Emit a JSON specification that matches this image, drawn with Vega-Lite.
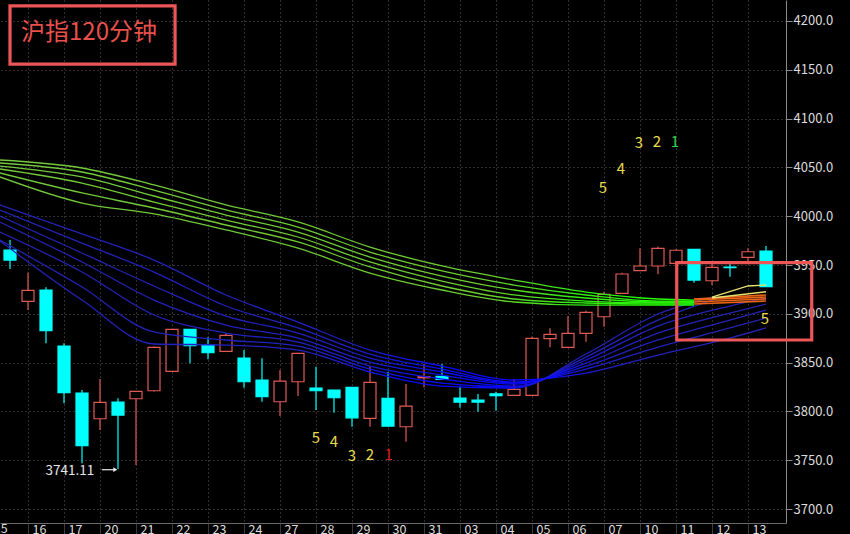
{
  "$schema": "https://vega.github.io/schema/vega-lite/v6.json",
  "width": 786,
  "height": 523,
  "autosize": {"type": "none"},
  "padding": {"left": 0, "top": 0, "right": 64, "bottom": 11},
  "background": "#000000",
  "config": {
    "view": {"stroke": null},
    "scale": {"continuousPadding": 0},
    "axis": {"title": null, "labelFont": "Noto Sans CJK SC", "labelColor": "#dcdcdc", "labelFontSize": 13, "gridColor": "#5c5c5c", "gridDash": [1, 3], "gridWidth": 1, "labelOverlap": false, "labelFlush": false, "labelBound": false}
  },
  "datasets": {
    "candles": [
      {"i": 0, "o": 3965.4, "h": 3975.6, "l": 3945.9, "c": 3955.1, "d": "d"},
      {"i": 1, "o": 3912.8, "h": 3942.1, "l": 3903.9, "c": 3924.1, "d": "u"},
      {"i": 2, "o": 3924.4, "h": 3927.2, "l": 3869.8, "c": 3882.7, "d": "d"},
      {"i": 3, "o": 3867.0, "h": 3869.8, "l": 3808.3, "c": 3819.2, "d": "d"},
      {"i": 4, "o": 3818.9, "h": 3821.9, "l": 3746.8, "c": 3764.9, "d": "d"},
      {"i": 5, "o": 3792.5, "h": 3833.2, "l": 3780.9, "c": 3809.3, "d": "u"},
      {"i": 6, "o": 3809.6, "h": 3813.4, "l": 3741.11, "c": 3796.3, "d": "d"},
      {"i": 7, "o": 3813.0, "h": 3821.0, "l": 3745.1, "c": 3820.6, "d": "u"},
      {"i": 8, "o": 3821.2, "h": 3866.5, "l": 3820.5, "c": 3865.7, "d": "u"},
      {"i": 9, "o": 3841.1, "h": 3884.5, "l": 3840.5, "c": 3884.1, "d": "u"},
      {"i": 10, "o": 3884.1, "h": 3884.5, "l": 3849.3, "c": 3867.3, "d": "d"},
      {"i": 11, "o": 3868.0, "h": 3875.9, "l": 3853.4, "c": 3860.1, "d": "d"},
      {"i": 12, "o": 3861.6, "h": 3880.0, "l": 3861.0, "c": 3878.0, "d": "u"},
      {"i": 13, "o": 3854.7, "h": 3862.9, "l": 3824.3, "c": 3830.4, "d": "d"},
      {"i": 14, "o": 3832.2, "h": 3854.4, "l": 3809.9, "c": 3815.1, "d": "d"},
      {"i": 15, "o": 3809.9, "h": 3842.4, "l": 3795.3, "c": 3831.1, "d": "u"},
      {"i": 16, "o": 3830.4, "h": 3860.1, "l": 3815.8, "c": 3859.5, "d": "u"},
      {"i": 17, "o": 3824.0, "h": 3845.8, "l": 3801.4, "c": 3821.2, "d": "d"},
      {"i": 18, "o": 3821.9, "h": 3822.0, "l": 3798.7, "c": 3814.0, "d": "d"},
      {"i": 19, "o": 3824.7, "h": 3825.0, "l": 3784.3, "c": 3793.5, "d": "d"},
      {"i": 20, "o": 3792.9, "h": 3845.8, "l": 3784.3, "c": 3829.8, "d": "u"},
      {"i": 21, "o": 3813.4, "h": 3840.7, "l": 3784.3, "c": 3785.0, "d": "d"},
      {"i": 22, "o": 3784.3, "h": 3828.1, "l": 3769.0, "c": 3805.5, "d": "u"},
      {"i": 23, "o": 3834.5, "h": 3848.6, "l": 3824.7, "c": 3835.6, "d": "u"},
      {"i": 24, "o": 3836.0, "h": 3848.6, "l": 3832.5, "c": 3832.9, "d": "d"},
      {"i": 25, "o": 3813.7, "h": 3825.3, "l": 3803.8, "c": 3809.6, "d": "d"},
      {"i": 26, "o": 3811.7, "h": 3817.8, "l": 3799.7, "c": 3809.6, "d": "d"},
      {"i": 27, "o": 3818.1, "h": 3820.2, "l": 3800.7, "c": 3816.1, "d": "d"},
      {"i": 28, "o": 3816.5, "h": 3832.9, "l": 3816.0, "c": 3822.6, "d": "u"},
      {"i": 29, "o": 3816.5, "h": 3876.5, "l": 3816.0, "c": 3874.9, "d": "u"},
      {"i": 30, "o": 3874.5, "h": 3885.1, "l": 3865.7, "c": 3879.0, "d": "u"},
      {"i": 31, "o": 3865.7, "h": 3897.7, "l": 3865.5, "c": 3880.0, "d": "u"},
      {"i": 32, "o": 3880.0, "h": 3903.2, "l": 3871.4, "c": 3901.5, "d": "u"},
      {"i": 33, "o": 3897.0, "h": 3922.6, "l": 3886.8, "c": 3920.0, "d": "u"},
      {"i": 34, "o": 3921.0, "h": 3942.1, "l": 3920.5, "c": 3940.8, "d": "u"},
      {"i": 35, "o": 3944.2, "h": 3967.1, "l": 3944.0, "c": 3949.0, "d": "u"},
      {"i": 36, "o": 3949.0, "h": 3968.8, "l": 3940.5, "c": 3967.1, "d": "u"},
      {"i": 37, "o": 3951.7, "h": 3966.1, "l": 3951.5, "c": 3965.1, "d": "u"},
      {"i": 38, "o": 3966.1, "h": 3966.3, "l": 3931.9, "c": 3934.6, "d": "d"},
      {"i": 39, "o": 3933.9, "h": 3951.7, "l": 3929.5, "c": 3947.6, "d": "u"},
      {"i": 40, "o": 3947.9, "h": 3951.7, "l": 3938.0, "c": 3947.3, "d": "d"},
      {"i": 41, "o": 3957.9, "h": 3967.1, "l": 3954.4, "c": 3963.6, "d": "u"},
      {"i": 42, "o": 3964.3, "h": 3969.5, "l": 3927.5, "c": 3927.8, "d": "d"}
    ],
    "lines": [
      {"s": "G1", "g": "green", "i": -0.56, "v": 4057.6}, {"s": "G1", "g": "green", "i": 4, "v": 4049.4}, {"s": "G1", "g": "green", "i": 8, "v": 4032.0}, {"s": "G1", "g": "green", "i": 12, "v": 4011.5}, {"s": "G1", "g": "green", "i": 16, "v": 3994.1}, {"s": "G1", "g": "green", "i": 20, "v": 3968.4}, {"s": "G1", "g": "green", "i": 24, "v": 3949.0}, {"s": "G1", "g": "green", "i": 28, "v": 3934.6}, {"s": "G1", "g": "green", "i": 32, "v": 3922.3}, {"s": "G1", "g": "green", "i": 36, "v": 3915.2}, {"s": "G1", "g": "green", "i": 38, "v": 3914.1},
      {"s": "G2", "g": "green", "i": -0.56, "v": 4054.5}, {"s": "G2", "g": "green", "i": 4, "v": 4045.3}, {"s": "G2", "g": "green", "i": 8, "v": 4026.8}, {"s": "G2", "g": "green", "i": 12, "v": 4006.4}, {"s": "G2", "g": "green", "i": 16, "v": 3988.9}, {"s": "G2", "g": "green", "i": 20, "v": 3963.3}, {"s": "G2", "g": "green", "i": 24, "v": 3943.9}, {"s": "G2", "g": "green", "i": 28, "v": 3929.5}, {"s": "G2", "g": "green", "i": 32, "v": 3919.3}, {"s": "G2", "g": "green", "i": 36, "v": 3913.1}, {"s": "G2", "g": "green", "i": 38, "v": 3913.1},
      {"s": "G3", "g": "green", "i": -0.56, "v": 4051.4}, {"s": "G3", "g": "green", "i": 4, "v": 4040.2}, {"s": "G3", "g": "green", "i": 8, "v": 4020.7}, {"s": "G3", "g": "green", "i": 12, "v": 4001.2}, {"s": "G3", "g": "green", "i": 16, "v": 3983.8}, {"s": "G3", "g": "green", "i": 20, "v": 3958.2}, {"s": "G3", "g": "green", "i": 24, "v": 3938.7}, {"s": "G3", "g": "green", "i": 28, "v": 3924.4}, {"s": "G3", "g": "green", "i": 32, "v": 3916.2}, {"s": "G3", "g": "green", "i": 36, "v": 3912.1}, {"s": "G3", "g": "green", "i": 38, "v": 3912.1},
      {"s": "G4", "g": "green", "i": -0.56, "v": 4048.4}, {"s": "G4", "g": "green", "i": 4, "v": 4034.0}, {"s": "G4", "g": "green", "i": 8, "v": 4014.5}, {"s": "G4", "g": "green", "i": 12, "v": 3996.1}, {"s": "G4", "g": "green", "i": 16, "v": 3978.7}, {"s": "G4", "g": "green", "i": 20, "v": 3953.1}, {"s": "G4", "g": "green", "i": 24, "v": 3933.6}, {"s": "G4", "g": "green", "i": 28, "v": 3919.3}, {"s": "G4", "g": "green", "i": 32, "v": 3913.1}, {"s": "G4", "g": "green", "i": 36, "v": 3911.1}, {"s": "G4", "g": "green", "i": 38, "v": 3911.1},
      {"s": "G5", "g": "green", "i": -0.56, "v": 4044.3}, {"s": "G5", "g": "green", "i": 4, "v": 4023.8}, {"s": "G5", "g": "green", "i": 8, "v": 4008.4}, {"s": "G5", "g": "green", "i": 12, "v": 3991.0}, {"s": "G5", "g": "green", "i": 16, "v": 3973.6}, {"s": "G5", "g": "green", "i": 20, "v": 3948.0}, {"s": "G5", "g": "green", "i": 24, "v": 3928.5}, {"s": "G5", "g": "green", "i": 28, "v": 3915.2}, {"s": "G5", "g": "green", "i": 32, "v": 3911.1}, {"s": "G5", "g": "green", "i": 36, "v": 3910.0}, {"s": "G5", "g": "green", "i": 38, "v": 3910.0},
      {"s": "G6", "g": "green", "i": -0.56, "v": 4040.2}, {"s": "G6", "g": "green", "i": 4, "v": 4013.5}, {"s": "G6", "g": "green", "i": 8, "v": 4002.3}, {"s": "G6", "g": "green", "i": 12, "v": 3985.9}, {"s": "G6", "g": "green", "i": 16, "v": 3967.4}, {"s": "G6", "g": "green", "i": 20, "v": 3941.8}, {"s": "G6", "g": "green", "i": 24, "v": 3924.4}, {"s": "G6", "g": "green", "i": 28, "v": 3912.1}, {"s": "G6", "g": "green", "i": 32, "v": 3909.0}, {"s": "G6", "g": "green", "i": 36, "v": 3909.0}, {"s": "G6", "g": "green", "i": 38, "v": 3909.0},
      {"s": "B1", "g": "blue", "i": -0.56, "v": 4011.5}, {"s": "B1", "g": "blue", "i": 4, "v": 3981.8}, {"s": "B1", "g": "blue", "i": 8, "v": 3955.1}, {"s": "B1", "g": "blue", "i": 12, "v": 3919.3}, {"s": "B1", "g": "blue", "i": 16, "v": 3891.6}, {"s": "B1", "g": "blue", "i": 20, "v": 3862.9}, {"s": "B1", "g": "blue", "i": 24, "v": 3846.5}, {"s": "B1", "g": "blue", "i": 28, "v": 3832.2}, {"s": "B1", "g": "blue", "i": 32, "v": 3839.3}, {"s": "B1", "g": "blue", "i": 36, "v": 3857.8}, {"s": "B1", "g": "blue", "i": 40, "v": 3875.2}, {"s": "B1", "g": "blue", "i": 42, "v": 3885.5},
      {"s": "B2", "g": "blue", "i": -0.56, "v": 4006.4}, {"s": "B2", "g": "blue", "i": 4, "v": 3972.5}, {"s": "B2", "g": "blue", "i": 8, "v": 3942.8}, {"s": "B2", "g": "blue", "i": 12, "v": 3908.0}, {"s": "B2", "g": "blue", "i": 16, "v": 3885.5}, {"s": "B2", "g": "blue", "i": 20, "v": 3858.8}, {"s": "B2", "g": "blue", "i": 24, "v": 3843.4}, {"s": "B2", "g": "blue", "i": 28, "v": 3830.1}, {"s": "B2", "g": "blue", "i": 32, "v": 3843.4}, {"s": "B2", "g": "blue", "i": 36, "v": 3866.0}, {"s": "B2", "g": "blue", "i": 40, "v": 3885.5}, {"s": "B2", "g": "blue", "i": 42, "v": 3895.7},
      {"s": "B3", "g": "blue", "i": -0.56, "v": 4000.2}, {"s": "B3", "g": "blue", "i": 4, "v": 3962.3}, {"s": "B3", "g": "blue", "i": 8, "v": 3928.5}, {"s": "B3", "g": "blue", "i": 12, "v": 3897.7}, {"s": "B3", "g": "blue", "i": 16, "v": 3880.3}, {"s": "B3", "g": "blue", "i": 20, "v": 3854.7}, {"s": "B3", "g": "blue", "i": 24, "v": 3840.4}, {"s": "B3", "g": "blue", "i": 28, "v": 3829.1}, {"s": "B3", "g": "blue", "i": 32, "v": 3846.5}, {"s": "B3", "g": "blue", "i": 36, "v": 3873.2}, {"s": "B3", "g": "blue", "i": 40, "v": 3893.6}, {"s": "B3", "g": "blue", "i": 42, "v": 3903.9},
      {"s": "B4", "g": "blue", "i": -0.56, "v": 3994.1}, {"s": "B4", "g": "blue", "i": 4, "v": 3953.1}, {"s": "B4", "g": "blue", "i": 8, "v": 3914.1}, {"s": "B4", "g": "blue", "i": 12, "v": 3888.5}, {"s": "B4", "g": "blue", "i": 16, "v": 3875.2}, {"s": "B4", "g": "blue", "i": 20, "v": 3850.6}, {"s": "B4", "g": "blue", "i": 24, "v": 3837.3}, {"s": "B4", "g": "blue", "i": 28, "v": 3828.1}, {"s": "B4", "g": "blue", "i": 32, "v": 3849.6}, {"s": "B4", "g": "blue", "i": 36, "v": 3880.3}, {"s": "B4", "g": "blue", "i": 40, "v": 3900.8}, {"s": "B4", "g": "blue", "i": 42, "v": 3910.0},
      {"s": "B5", "g": "blue", "i": -0.56, "v": 3983.8}, {"s": "B5", "g": "blue", "i": 4, "v": 3942.8}, {"s": "B5", "g": "blue", "i": 8, "v": 3898.8}, {"s": "B5", "g": "blue", "i": 12, "v": 3880.3}, {"s": "B5", "g": "blue", "i": 16, "v": 3871.1}, {"s": "B5", "g": "blue", "i": 20, "v": 3846.5}, {"s": "B5", "g": "blue", "i": 24, "v": 3833.2}, {"s": "B5", "g": "blue", "i": 28, "v": 3826.0}, {"s": "B5", "g": "blue", "i": 32, "v": 3852.7}, {"s": "B5", "g": "blue", "i": 36, "v": 3887.5}, {"s": "B5", "g": "blue", "i": 40, "v": 3908.0}, {"s": "B5", "g": "blue", "i": 42, "v": 3916.2},
      {"s": "B6", "g": "blue", "i": -0.56, "v": 3975.6}, {"s": "B6", "g": "blue", "i": 4, "v": 3927.5}, {"s": "B6", "g": "blue", "i": 8, "v": 3881.4}, {"s": "B6", "g": "blue", "i": 12, "v": 3873.2}, {"s": "B6", "g": "blue", "i": 16, "v": 3867.0}, {"s": "B6", "g": "blue", "i": 20, "v": 3843.4}, {"s": "B6", "g": "blue", "i": 24, "v": 3829.1}, {"s": "B6", "g": "blue", "i": 28, "v": 3825.0}, {"s": "B6", "g": "blue", "i": 32, "v": 3855.7}, {"s": "B6", "g": "blue", "i": 36, "v": 3893.6}, {"s": "B6", "g": "blue", "i": 39, "v": 3914.1},
      {"s": "B7", "g": "blue", "i": -0.56, "v": 3974.6}, {"s": "B7", "g": "blue", "i": 4, "v": 3914.1}, {"s": "B7", "g": "blue", "i": 8, "v": 3869.1}, {"s": "B7", "g": "blue", "i": 12, "v": 3868.0}, {"s": "B7", "g": "blue", "i": 16, "v": 3862.9}, {"s": "B7", "g": "blue", "i": 20, "v": 3840.4}, {"s": "B7", "g": "blue", "i": 24, "v": 3826.0}, {"s": "B7", "g": "blue", "i": 28, "v": 3824.0}, {"s": "B7", "g": "blue", "i": 32, "v": 3858.8}, {"s": "B7", "g": "blue", "i": 36, "v": 3899.8}, {"s": "B7", "g": "blue", "i": 39, "v": 3917.2},
      {"s": "O1", "g": "orange", "i": 38, "v": 3915.2}, {"s": "O1", "g": "orange", "i": 42, "v": 3919.3},
      {"s": "O2", "g": "orange", "i": 38, "v": 3914.1}, {"s": "O2", "g": "orange", "i": 42, "v": 3917.2},
      {"s": "O3", "g": "orange", "i": 38, "v": 3912.1}, {"s": "O3", "g": "orange", "i": 42, "v": 3915.2},
      {"s": "O4", "g": "orange", "i": 38, "v": 3910.0}, {"s": "O4", "g": "orange", "i": 42, "v": 3913.1},
      {"s": "Y1", "g": "yellow", "i": 39, "v": 3917.2}, {"s": "Y1", "g": "yellow", "i": 41, "v": 3928.5}, {"s": "Y1", "g": "yellow", "i": 42, "v": 3929.5},
      {"s": "Y2", "g": "yellow", "i": 39, "v": 3916.2}, {"s": "Y2", "g": "yellow", "i": 42, "v": 3922.6}
    ],
    "boxes": [
      {"x1": 0, "x2": 9.17, "y1": 4215.4, "y2": 4155.9},
      {"x1": 37.04, "x2": 44.54, "y1": 3952.4, "y2": 3873.2}
    ],
    "texts": [
      {"i": 4.39, "v": 4188.2, "t": "沪指120分钟", "g": "title"},
      {"i": 3.33, "v": 3738.9, "t": "3741.11", "g": "white"},
      {"i": 17, "v": 3772.7, "t": "5", "g": "yellow"},
      {"i": 18, "v": 3768.9, "t": "4", "g": "yellow"},
      {"i": 19, "v": 3754.3, "t": "3", "g": "yellow"},
      {"i": 20, "v": 3755.0, "t": "2", "g": "yellow"},
      {"i": 21.04, "v": 3755.0, "t": "1", "g": "red"},
      {"i": 32.94, "v": 4028.9, "t": "5", "g": "yellow"},
      {"i": 33.94, "v": 4048.4, "t": "4", "g": "yellow"},
      {"i": 34.94, "v": 4075.0, "t": "3", "g": "yellow"},
      {"i": 35.94, "v": 4076.0, "t": "2", "g": "yellow"},
      {"i": 36.94, "v": 4076.0, "t": "1", "g": "green"},
      {"i": 41.94, "v": 3894.7, "t": "5", "g": "yellow"}
    ],
    "edge": [
      {"i": -0.9, "v": 3685.7, "t": "15"}
    ],
    "arrow": [
      {"i": 5.1, "i2": 5.85, "v": 3740.3}
    ]
  },
  "layer": [
    {
      "data": {"name": "candles"},
      "mark": {"type": "rule", "strokeWidth": 1.2},
      "encoding": {
        "x": {"field": "i", "type": "quantitative", "scale": {"domain": [-0.556, 43.111], "nice": false, "zero": false, "padding": 0},
          "axis": {"orient": "bottom", "values": [1, 3, 5, 7, 9, 11, 13, 15, 17, 19, 21, 23, 25, 27, 29, 31, 33, 35, 37, 39, 41], "tickCount": 60,
            "labelExpr": "['15','16','17','20','21','22','23','24','27','28','29','30','31','03','04','05','06','07','10','11','12','13'][(datum.value+1)/2]",
            "labelAlign": "left", "labelOffset": 4, "labelBaseline": "top", "labelPadding": -11, "labelFontSize": 12.5, "labelFlush": false, "labelOverlap": false, "labelBound": false,
            "tickSize": 11, "tickColor": "#3a3a3a", "domainColor": "#6a6a6a", "grid": true}},
        "y": {"field": "l", "type": "quantitative", "scale": {"domain": [3685.7, 4221.5], "nice": false, "zero": false},
          "axis": {"orient": "right", "values": [3700, 3750, 3800, 3850, 3900, 3950, 4000, 4050, 4100, 4150, 4200], "tickCount": 30, "format": ".1f",
            "tickSize": 6, "tickColor": "#8a8a8a", "domainColor": "#8a8a8a", "labelPadding": 1, "labelBaseline": "middle", "grid": true}},
        "y2": {"field": "h"},
        "color": {"condition": {"test": "datum.d == 'u'", "value": "#e05a55"}, "value": "#00ffff"}
      }
    },
    {
      "data": {"name": "candles"},
      "mark": {"type": "bar", "size": 12, "strokeWidth": 1.2},
      "encoding": {
        "x": {"field": "i", "type": "quantitative", "scale": {"domain": [-0.556, 43.111], "nice": false, "zero": false, "padding": 0}},
        "y": {"field": "o", "type": "quantitative", "scale": {"domain": [3685.7, 4221.5], "nice": false, "zero": false}},
        "y2": {"field": "c"},
        "fill": {"condition": {"test": "datum.d == 'u'", "value": "#000000"}, "value": "#00ffff"},
        "stroke": {"condition": {"test": "datum.d == 'u'", "value": "#e05a55"}, "value": "#00ffff"}
      }
    },
    {
      "data": {"name": "lines"},
      "transform": [{"filter": "datum.g == 'blue'"}],
      "mark": {"type": "line", "interpolate": "monotone", "strokeWidth": 1.3, "clip": true,
        "stroke": {"gradient": "linear", "x1": 0, "y1": 0, "x2": 1, "y2": 0,
          "stops": [{"offset": 0, "color": "#2222b4"}, {"offset": 0.45, "color": "#2020c4"}, {"offset": 0.58, "color": "#0a0af4"}, {"offset": 0.7, "color": "#0808ff"}, {"offset": 0.8, "color": "#2020c0"}, {"offset": 1, "color": "#2424b0"}]}},
      "encoding": {
        "x": {"field": "i", "type": "quantitative", "scale": {"domain": [-0.556, 43.111], "nice": false, "zero": false, "padding": 0}},
        "y": {"field": "v", "type": "quantitative", "scale": {"domain": [3685.7, 4221.5], "nice": false, "zero": false}},
        "detail": {"field": "s"}
      }
    },
    {
      "data": {"name": "lines"},
      "transform": [{"filter": "datum.g == 'green'"}],
      "mark": {"type": "line", "interpolate": "monotone", "strokeWidth": 1.3, "clip": true,
        "stroke": {"gradient": "linear", "x1": 0, "y1": 0, "x2": 1, "y2": 0,
          "stops": [{"offset": 0, "color": "#74c83c"}, {"offset": 0.7, "color": "#6ccc30"}, {"offset": 0.82, "color": "#34ec14"}, {"offset": 1, "color": "#22ff00"}]}},
      "encoding": {
        "x": {"field": "i", "type": "quantitative", "scale": {"domain": [-0.556, 43.111], "nice": false, "zero": false, "padding": 0}},
        "y": {"field": "v", "type": "quantitative", "scale": {"domain": [3685.7, 4221.5], "nice": false, "zero": false}},
        "detail": {"field": "s"}
      }
    },
    {
      "data": {"name": "lines"},
      "transform": [{"filter": "datum.g == 'orange'"}],
      "mark": {"type": "line", "strokeWidth": 1.6, "clip": true, "stroke": "#ea6418"},
      "encoding": {
        "x": {"field": "i", "type": "quantitative", "scale": {"domain": [-0.556, 43.111], "nice": false, "zero": false, "padding": 0}},
        "y": {"field": "v", "type": "quantitative", "scale": {"domain": [3685.7, 4221.5], "nice": false, "zero": false}},
        "detail": {"field": "s"}
      }
    },
    {
      "data": {"name": "lines"},
      "transform": [{"filter": "datum.g == 'yellow'"}],
      "mark": {"type": "line", "strokeWidth": 1.3, "clip": true, "stroke": "#e8e070"},
      "encoding": {
        "x": {"field": "i", "type": "quantitative", "scale": {"domain": [-0.556, 43.111], "nice": false, "zero": false, "padding": 0}},
        "y": {"field": "v", "type": "quantitative", "scale": {"domain": [3685.7, 4221.5], "nice": false, "zero": false}},
        "detail": {"field": "s"}
      }
    },
    {
      "data": {"name": "boxes"},
      "mark": {"type": "rect", "filled": false, "stroke": "#ec5656", "strokeWidth": 3.2},
      "encoding": {
        "x": {"field": "x1", "type": "quantitative", "scale": {"domain": [-0.556, 43.111], "nice": false, "zero": false, "padding": 0}},
        "x2": {"field": "x2"},
        "y": {"field": "y1", "type": "quantitative", "scale": {"domain": [3685.7, 4221.5], "nice": false, "zero": false}},
        "y2": {"field": "y2"}
      }
    },
    {
      "data": {"name": "arrow"},
      "mark": {"type": "rule", "color": "#e8e8e8", "strokeWidth": 1.2},
      "encoding": {
        "x": {"field": "i", "type": "quantitative", "scale": {"domain": [-0.556, 43.111], "nice": false, "zero": false, "padding": 0}},
        "x2": {"field": "i2"},
        "y": {"field": "v", "type": "quantitative", "scale": {"domain": [3685.7, 4221.5], "nice": false, "zero": false}}
      }
    },
    {
      "data": {"name": "arrow"},
      "mark": {"type": "point", "shape": "triangle-right", "filled": true, "color": "#e8e8e8", "size": 22, "opacity": 1},
      "encoding": {
        "x": {"field": "i2", "type": "quantitative", "scale": {"domain": [-0.556, 43.111], "nice": false, "zero": false, "padding": 0}},
        "y": {"field": "v", "type": "quantitative", "scale": {"domain": [3685.7, 4221.5], "nice": false, "zero": false}}
      }
    },
    {
      "data": {"name": "edge"},
      "mark": {"type": "text", "font": "Noto Sans CJK SC", "fontSize": 12.5, "align": "left", "baseline": "top", "color": "#dcdcdc"},
      "encoding": {
        "x": {"field": "i", "type": "quantitative", "scale": {"domain": [-0.556, 43.111], "nice": false, "zero": false, "padding": 0}},
        "y": {"field": "v", "type": "quantitative", "scale": {"domain": [3685.7, 4221.5], "nice": false, "zero": false}},
        "text": {"field": "t"}
      }
    },
    {
      "data": {"name": "texts"},
      "mark": {"type": "text", "font": "Noto Sans CJK SC", "align": "center", "baseline": "middle"},
      "encoding": {
        "x": {"field": "i", "type": "quantitative", "scale": {"domain": [-0.556, 43.111], "nice": false, "zero": false, "padding": 0}},
        "y": {"field": "v", "type": "quantitative", "scale": {"domain": [3685.7, 4221.5], "nice": false, "zero": false}},
        "text": {"field": "t"},
        "color": {"condition": [
          {"test": "datum.g == 'title'", "value": "#e8504c"},
          {"test": "datum.g == 'white'", "value": "#e6e6e6"},
          {"test": "datum.g == 'red'", "value": "#d42020"},
          {"test": "datum.g == 'green'", "value": "#2ed850"}
        ], "value": "#e8dc4c"},
        "size": {"condition": [
          {"test": "datum.g == 'title'", "value": 24},
          {"test": "datum.g == 'white'", "value": 13.5}
        ], "value": 15}
      }
    }
  ]
}
